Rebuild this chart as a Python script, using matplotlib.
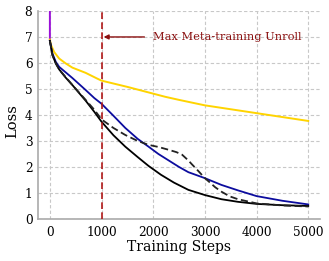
import matplotlib
matplotlib.use("Agg")
import matplotlib.pyplot as plt

steps_y = [0, 20, 83, 180, 308, 436, 692, 915, 1000, 1500, 2000, 2230, 2500, 3000, 3500, 4000, 4500, 5000]
yellow = [6.9, 6.7, 6.42, 6.17, 5.98, 5.82, 5.62, 5.4, 5.32, 5.08, 4.82, 4.7, 4.58, 4.37, 4.22, 4.07, 3.92, 3.77]

steps_b = [0, 50, 115, 180, 436, 692, 860, 1000, 1230, 1460, 1700, 1910, 2100, 2300, 2500, 2680, 3000, 3320, 3640, 4000, 4500, 5000]
blue = [6.85, 6.36, 6.04, 5.85, 5.42, 4.96, 4.65, 4.43, 3.97, 3.5, 3.08, 2.78, 2.5, 2.25, 2.0, 1.8, 1.57, 1.31, 1.1, 0.88, 0.7, 0.56]

steps_k = [0, 50, 115, 180, 300, 436, 563, 692, 860, 1000, 1230, 1460, 1700, 1910, 2150, 2400, 2680, 3000, 3320, 3640, 4000, 4500, 5000]
black = [6.85, 6.3, 5.98, 5.75, 5.45, 5.15, 4.85, 4.55, 4.12, 3.74, 3.22, 2.78, 2.38, 2.04, 1.7, 1.4, 1.12, 0.92, 0.76, 0.66, 0.58, 0.53, 0.5]

steps_d = [0, 50, 115, 180, 436, 692, 860, 1000, 1230, 1460, 1700, 1910, 2100, 2300, 2450, 2560, 2680, 2750, 2870, 3000, 3070, 3200, 3320, 3480, 3640, 4000, 4500, 5000]
dashed = [6.85, 6.3, 5.98, 5.75, 5.15, 4.58, 4.2, 3.83, 3.5, 3.23, 3.0, 2.85, 2.77, 2.66, 2.57, 2.47, 2.25, 2.1, 1.85, 1.57, 1.45, 1.22, 1.05, 0.87, 0.76, 0.6, 0.52, 0.48]

steps_p = [0, 5]
purple = [6.9, 60.0]

unroll = 1000
xticks = [0, 1000, 2000, 3000, 4000, 5000]
yticks = [0, 1, 2, 3, 4, 5, 6, 7, 8]

plt.rcParams['font.family'] = 'DejaVu Serif'
fig = plt.figure(figsize=(3.29, 2.61), dpi=100)
ax = fig.add_axes([0.1155, 0.161, 0.8575, 0.797])

ax.plot(steps_p, purple, color='#9b10d8', lw=1.4, zorder=3)
ax.plot(steps_y, yellow, color='#ffd400', lw=1.4, zorder=3)
ax.plot(steps_b, blue, color='#0c0c9e', lw=1.3, zorder=4)
ax.plot(steps_k, black, color='black', lw=1.3, zorder=4)
ax.plot(steps_d, dashed, color='#222222', lw=1.3, ls=(0, (4, 2)), zorder=4)
ax.axvline(unroll, color='#b01818', lw=1.2, ls=(0, (4, 2)), zorder=5)
ax.annotate('Max Meta-training Unroll', xy=(unroll + 40, 7), xytext=(1990, 7),
            color='#8b1010', fontsize=8.2, va='center', ha='left',
            arrowprops=dict(arrowstyle='-|>', color='#8b1010', lw=1.0,
                            mutation_scale=7, shrinkA=4, shrinkB=0))

ax.set_xlim(-230, 5230)
ax.set_ylim(0, 8)
ax.set_xticks(xticks)
ax.set_yticks(yticks)
ax.tick_params(length=0, labelsize=8.7, pad=5)
ax.tick_params(axis='y', pad=4)
ax.grid(True, ls=(0, (3, 2)), color='#c8c8c8', lw=0.8)
ax.set_axisbelow(True)
for s in ['top', 'right']:
    ax.spines[s].set_visible(False)
for s in ['left', 'bottom']:
    ax.spines[s].set_color('#aaaaaa')
    ax.spines[s].set_linewidth(1.2)
ax.set_xlabel('Training Steps', fontsize=10, labelpad=1)
ax.set_ylabel('Loss', fontsize=10.5)
ax.yaxis.set_label_coords(-0.067, 0.47)
fig.savefig('out.png', dpi=100)
